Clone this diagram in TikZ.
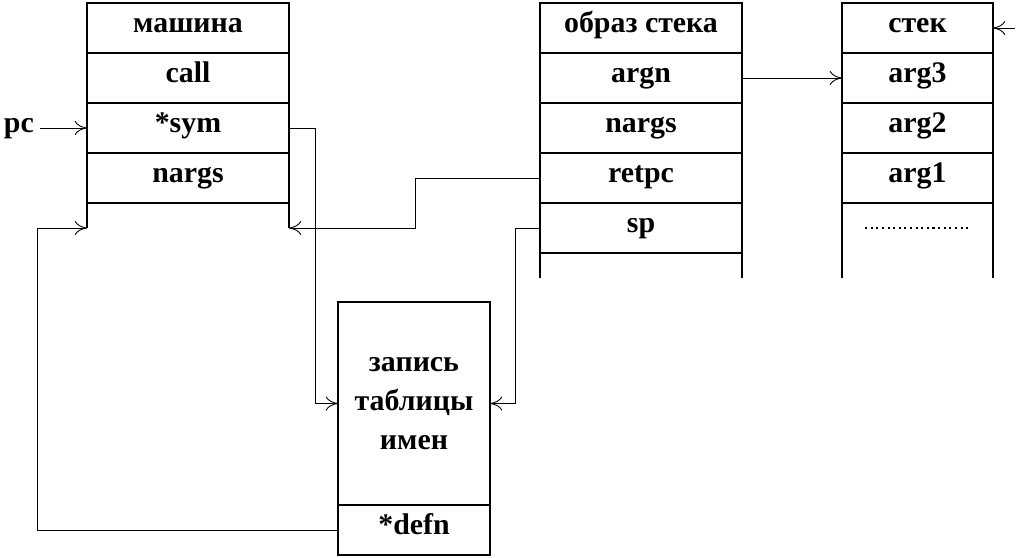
\documentclass[tikz,border=0pt]{standalone}
\usepackage{fontspec}
\setmainfont{Liberation Serif}
\usetikzlibrary{positioning, arrows.meta}
\tikzset{cell/.style={draw, line width=1.1pt, minimum height=1cm, inner sep=0pt, outer sep=0pt, text height=1.6ex, text depth=0.4ex, font=\fontsize{17}{20}\selectfont\bfseries},
link/.style={-{To[length=7pt,width=8pt]}, line width=0.5pt},
wall/.style={line width=1.1pt}}

\begin{document}
\begin{tikzpicture}
 \useasboundingbox (0,0) rectangle (20.38,-11.14);

 % машина
 \foreach \t [count=\i] in {машина,call,*sym,nargs}
  \node[cell, minimum width=4.04cm] (m\i) at (3.76,{-0.56-(\i-1)}) {\t};
 \draw[wall] (m4.south west) -- ++(0,-0.5) coordinate (mbl);
 \draw[wall] (m4.south east) -- ++(0,-0.5) coordinate (mbr);

 % образ стека
 \foreach \t [count=\i] in {образ стека,argn,nargs,retpc,sp}
  \node[cell, minimum width=4.04cm] (o\i) at (12.82,{-0.56-(\i-1)}) {\t};
 \draw[wall] (o5.south west) -- ++(0,-0.5);
 \draw[wall] (o5.south east) -- ++(0,-0.5);

 % стек
 \foreach \t [count=\i] in {стек,arg3,arg2,arg1}
  \node[cell, minimum width=3.02cm] (s\i) at (18.35,{-0.56-(\i-1)}) {\t};
 \draw[wall] (s4.south west) -- ++(0,-1.5);
 \draw[wall] (s4.south east) -- ++(0,-1.5);
 \draw[dotted, line width=1.2pt] (17.3,-4.56) -- (19.4,-4.56);

 % запись таблицы имен
 \node[cell, minimum width=3.04cm, minimum height=4.06cm, text height=, text depth=, align=center] (zap) at (8.28,-8.07) {запись\\[2pt]таблицы\\[2pt]имен};
 \node[cell, minimum width=3.04cm, below=0pt of zap] (defn) {*defn};

 \node[font=\fontsize{17}{20}\selectfont\bfseries, anchor=east, text height=1.6ex, text depth=0.4ex] (pc) at (0.8,-2.56) {pc};
 \coordinate (stk) at (20.3,-0.56);

 \draw[link] (pc) -- (m3.west);
 \draw[link] (m3.east) -- (6.3,-2.56) |- (zap.west);
 \draw[link] (defn.west) -- ++(-6.02,0) |- (mbl);
 \draw[link] (o4.west) -- (8.3,-3.56) |- (mbr);
 \draw[link] (o5.west) -- (10.3,-4.56) |- (zap.east);
 \draw[link] (o2.east) -- (s2.west);
 \draw[link] (stk) -- (s1.east);
\end{tikzpicture}
\end{document}
